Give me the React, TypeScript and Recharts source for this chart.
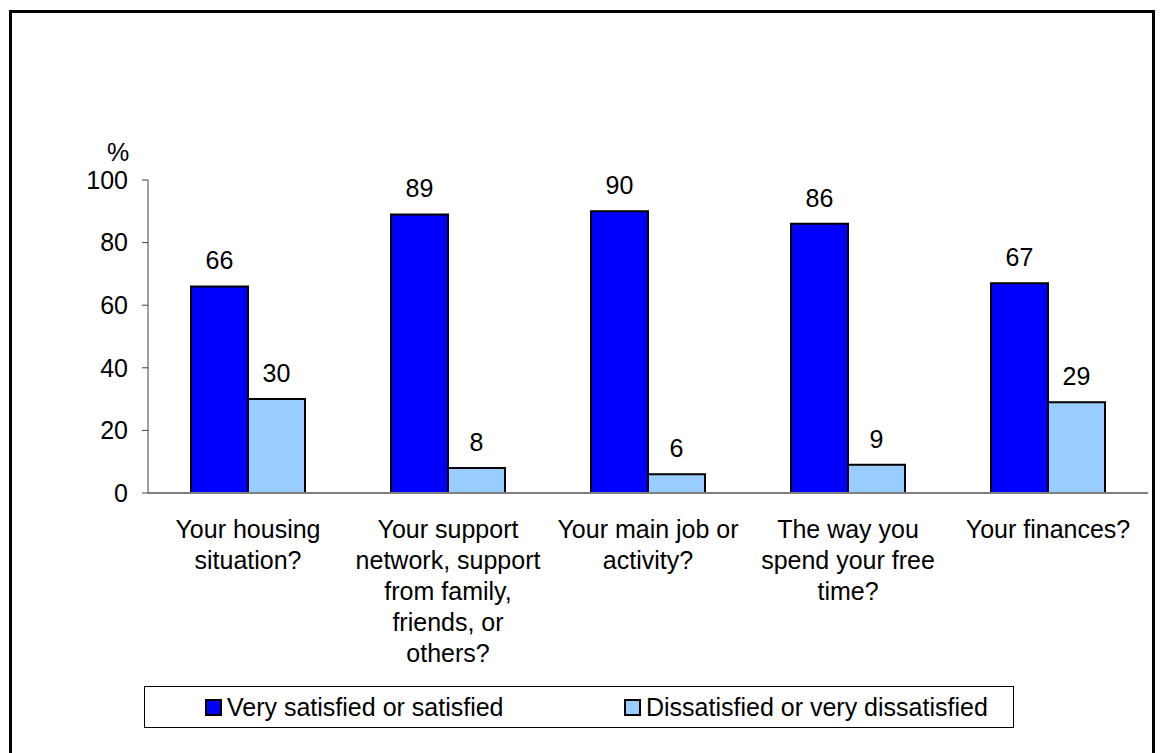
import React from 'react';
import { BarChart, Bar, XAxis, YAxis, Legend, LabelList } from 'recharts';

const CATEGORIES = [
  'Your housing\nsituation?',
  'Your support\nnetwork, support\nfrom family,\nfriends, or\nothers?',
  'Your main job or\nactivity?',
  'The way you\nspend your free\ntime?',
  'Your finances?',
];
const SATISFIED = [66, 89, 90, 86, 67];
const DISSATISFIED = [30, 8, 6, 9, 29];
const Y_TICKS = [0, 20, 40, 60, 80, 100];

const SERIES = [
  { key: 'satisfied', name: 'Very satisfied or satisfied', color: '#0000FF' },
  { key: 'dissatisfied', name: 'Dissatisfied or very dissatisfied', color: '#99CCFF' },
];

const data = CATEGORIES.map((category, i) => ({
  category,
  satisfied: SATISFIED[i],
  dissatisfied: DISSATISFIED[i],
}));

const FONT = 'Arial, "Liberation Sans", sans-serif';
const FS = 25;

function CategoryTick(props: any) {
  const { x, y, payload } = props;
  const lines = String(payload.value).split('\n');
  return (
    <g transform={`translate(${x},${y})`}>
      {lines.map((line, i) => (
        <text
          key={i}
          x={0}
          y={37 + i * 31}
          textAnchor="middle"
          fontSize={FS}
          fontFamily={FONT}
          fill="#000"
        >
          {line}
        </text>
      ))}
    </g>
  );
}

function LegendBox() {
  const offsets = [60, 479];
  return (
    <div
      style={{
        position: 'relative',
        width: 868,
        height: 40,
        border: '1px solid #000',
        background: '#fff',
        fontFamily: FONT,
        fontSize: FS,
        color: '#000',
      }}
    >
      {SERIES.map((s, i) => (
        <div
          key={s.key}
          style={{
            position: 'absolute',
            left: offsets[i],
            top: 0,
            height: 40,
            display: 'flex',
            alignItems: 'center',
            whiteSpace: 'nowrap',
          }}
        >
          <span
            style={{
              display: 'inline-block',
              width: 13,
              height: 13,
              background: s.color,
              border: '2px solid #000',
              marginRight: 5,
            }}
          />
          <span>{s.name}</span>
        </div>
      ))}
    </div>
  );
}

export default function App() {
  return (
    <div style={{ position: 'absolute', left: 0, top: 0, width: 1165, height: 753, background: '#fff' }}>
      {/* outer frame: open at the bottom, as cropped in the source */}
      <div
        style={{
          position: 'absolute',
          left: 9,
          top: 10,
          width: 1140,
          height: 760,
          borderTop: '3px solid #000',
          borderLeft: '3px solid #000',
          borderRight: '3px solid #000',
        }}
      />
      <div style={{ position: 'absolute', left: 0, top: 0 }}>
        <BarChart
          width={1165}
          height={753}
          data={data}
          margin={{ top: 180, right: 17, bottom: 58, left: 88 }}
          barCategoryGap={43}
          barGap={0}
        >
          <XAxis
            dataKey="category"
            interval={0}
            tickLine={false}
            axisLine={{ stroke: '#808080', strokeWidth: 2 }}
            tick={<CategoryTick />}
            height={160}
          />
          <YAxis
            width={60}
            domain={[0, 100]}
            ticks={Y_TICKS}
            tickSize={6}
            tickMargin={14}
            axisLine={{ stroke: '#404040' }}
            tickLine={{ stroke: '#404040' }}
            tick={{ fontSize: FS, fontFamily: FONT, fill: '#000' }}
            label={{
              value: '%',
              position: 'top',
              offset: 19,
              fontSize: FS,
              fontFamily: FONT,
              fill: '#000',
            }}
          />
          <Legend
            content={() => <LegendBox />}
            wrapperStyle={{ position: 'absolute', left: 144, top: 686, width: 870, height: 42 }}
          />
          {SERIES.map((s) => (
            <Bar
              key={s.key}
              dataKey={s.key}
              name={s.name}
              fill={s.color}
              stroke="#000"
              strokeWidth={2}
              isAnimationActive={false}
            >
              <LabelList
                dataKey={s.key}
                position="top"
                offset={17}
                fontSize={FS}
                fontFamily={FONT}
                fill="#000"
              />
            </Bar>
          ))}
        </BarChart>
      </div>
    </div>
  );
}
